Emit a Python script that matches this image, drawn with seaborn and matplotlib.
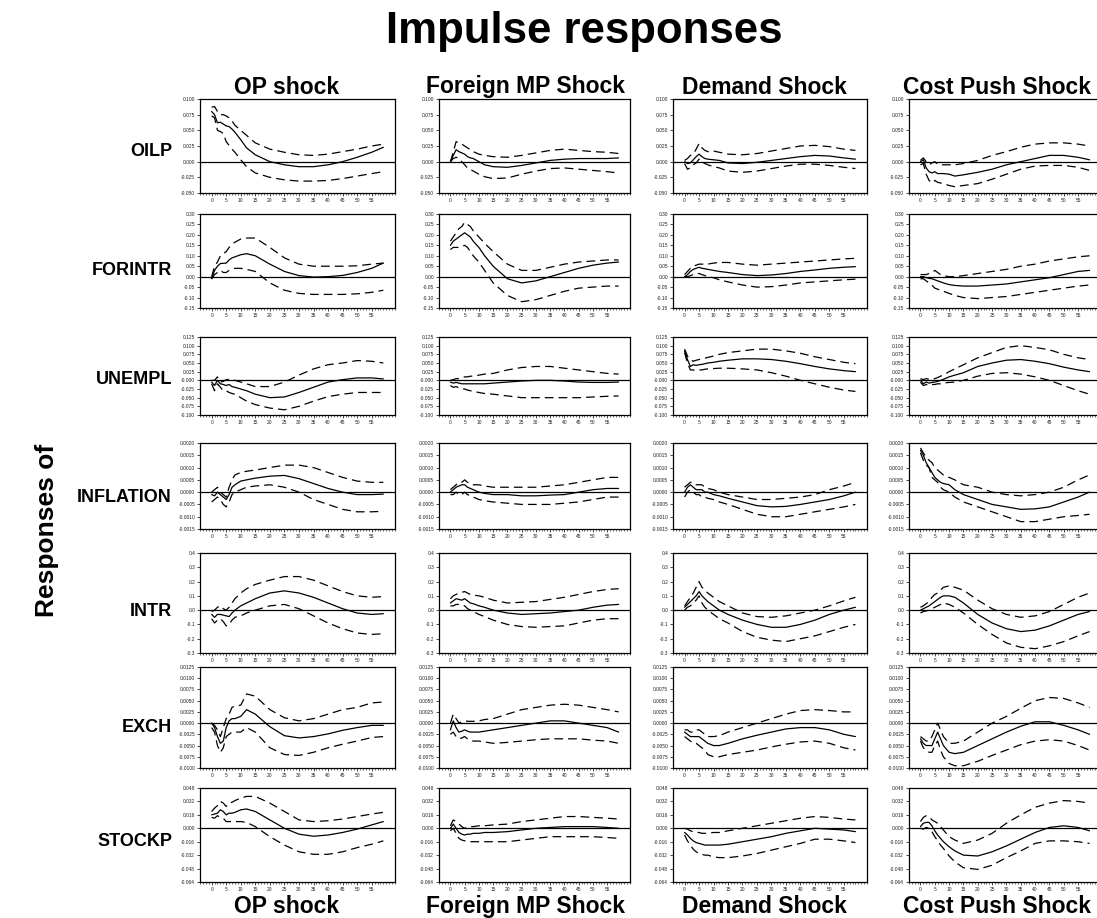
import numpy as np
import pandas as pd
import matplotlib
matplotlib.use("Agg")
import matplotlib.pyplot as plt
import seaborn as sns
from matplotlib.ticker import MultipleLocator

H = [0, 1, 2, 3, 4, 5, 6, 7, 8, 10, 12, 15, 20, 25, 30, 35, 40, 45, 50, 55, 59]

responses = ["OILP", "FORINTR", "UNEMPL", "INFLATION", "INTR", "EXCH", "STOCKP"]
shocks = ["OP shock", "Foreign MP Shock", "Demand Shock", "Cost Push Shock"]
shock_keys = ["OP", "FMP", "DEM", "CP"]

# y-axis ranges / tick steps per response
y_ranges = {
    "OILP": (-0.050, 0.100, 0.025, "%.3f"),
    "FORINTR": (-0.15, 0.30, 0.05, "%.2f"),
    "UNEMPL": (-0.100, 0.125, 0.025, "%.3f"),
    "INFLATION": (-0.0015, 0.0020, 0.0005, "%.4f"),
    "INTR": (-0.3, 0.4, 0.1, "%.1f"),
    "EXCH": (-0.0100, 0.0125, 0.0025, "%.4f"),
    "STOCKP": (-0.064, 0.048, 0.016, "%.3f"),
}

# ---- OILP ----
OILP_OP_mid = [0.080, 0.075, 0.062, 0.063, 0.060, 0.057, 0.056, 0.052, 0.047, 0.035, 0.022, 0.011, 0.000, -0.005, -0.008, -0.008, -0.005, 0.000, 0.007, 0.015, 0.023]
OILP_OP_hi = [0.087, 0.088, 0.080, 0.075, 0.075, 0.073, 0.070, 0.065, 0.058, 0.050, 0.042, 0.030, 0.020, 0.015, 0.011, 0.010, 0.012, 0.016, 0.020, 0.025, 0.028]
OILP_OP_lo = [0.073, 0.070, 0.050, 0.048, 0.045, 0.032, 0.026, 0.020, 0.015, 0.003, -0.008, -0.018, -0.025, -0.029, -0.031, -0.031, -0.030, -0.027, -0.023, -0.019, -0.016]

OILP_FMP_mid = [0.000, 0.010, 0.019, 0.016, 0.014, 0.012, 0.008, 0.006, 0.005, 0.000, -0.005, -0.008, -0.009, -0.006, -0.002, 0.002, 0.004, 0.005, 0.005, 0.005, 0.006]
OILP_FMP_hi = [0.000, 0.015, 0.032, 0.030, 0.028, 0.025, 0.022, 0.019, 0.016, 0.012, 0.010, 0.008, 0.007, 0.010, 0.014, 0.018, 0.020, 0.018, 0.016, 0.015, 0.013]
OILP_FMP_lo = [0.000, 0.005, 0.007, 0.005, 0.000, -0.005, -0.010, -0.012, -0.015, -0.020, -0.024, -0.027, -0.026, -0.020, -0.015, -0.011, -0.010, -0.012, -0.014, -0.016, -0.018]

OILP_DEM_mid = [0.000, -0.003, -0.002, 0.003, 0.008, 0.012, 0.008, 0.005, 0.004, 0.003, 0.002, -0.002, -0.003, -0.001, 0.002, 0.005, 0.008, 0.010, 0.009, 0.006, 0.004]
OILP_DEM_hi = [0.002, 0.005, 0.010, 0.012, 0.020, 0.029, 0.022, 0.018, 0.016, 0.017, 0.015, 0.012, 0.011, 0.013, 0.017, 0.021, 0.025, 0.026, 0.024, 0.020, 0.018]
OILP_DEM_lo = [-0.003, -0.012, -0.010, -0.005, -0.002, 0.004, 0.000, -0.003, -0.005, -0.008, -0.010, -0.015, -0.017, -0.015, -0.011, -0.007, -0.004, -0.004, -0.006, -0.009, -0.011]

OILP_CP_mid = [0.000, 0.003, -0.010, -0.016, -0.018, -0.016, -0.019, -0.019, -0.019, -0.020, -0.023, -0.021, -0.017, -0.012, -0.005, 0.000, 0.005, 0.010, 0.010, 0.007, 0.003]
OILP_CP_hi = [0.002, 0.006, 0.000, -0.005, -0.002, 0.000, -0.004, -0.005, -0.005, -0.005, -0.005, -0.003, 0.002, 0.010, 0.016, 0.023, 0.028, 0.030, 0.030, 0.028, 0.025]
OILP_CP_lo = [-0.005, -0.003, -0.020, -0.030, -0.034, -0.030, -0.033, -0.034, -0.035, -0.038, -0.040, -0.038, -0.035, -0.028, -0.020, -0.012, -0.007, -0.006, -0.006, -0.009, -0.014]

# ---- FORINTR ----
FORINTR_OP_mid = [-0.010, 0.030, 0.050, 0.063, 0.064, 0.065, 0.080, 0.090, 0.095, 0.105, 0.110, 0.100, 0.060, 0.025, 0.005, -0.002, 0.000, 0.006, 0.020, 0.040, 0.065]
FORINTR_OP_hi = [0.000, 0.050, 0.070, 0.100, 0.110, 0.120, 0.140, 0.155, 0.165, 0.180, 0.185, 0.185, 0.140, 0.090, 0.060, 0.050, 0.050, 0.050, 0.052, 0.060, 0.065]
FORINTR_OP_lo = [-0.010, 0.010, 0.020, 0.030, 0.020, 0.020, 0.030, 0.035, 0.040, 0.040, 0.035, 0.025, -0.030, -0.065, -0.080, -0.085, -0.085, -0.085, -0.082, -0.075, -0.065]

FORINTR_FMP_mid = [0.150, 0.170, 0.180, 0.190, 0.200, 0.210, 0.200, 0.190, 0.170, 0.140, 0.100, 0.050, -0.010, -0.030, -0.020, 0.000, 0.020, 0.040, 0.055, 0.065, 0.070]
FORINTR_FMP_hi = [0.170, 0.190, 0.210, 0.230, 0.240, 0.260, 0.250, 0.240, 0.220, 0.190, 0.160, 0.120, 0.060, 0.030, 0.030, 0.045, 0.060, 0.070, 0.075, 0.080, 0.080]
FORINTR_FMP_lo = [0.130, 0.140, 0.140, 0.140, 0.145, 0.150, 0.140, 0.120, 0.100, 0.070, 0.030, -0.030, -0.090, -0.120, -0.110, -0.090, -0.070, -0.055, -0.050, -0.045, -0.045]

FORINTR_DEM_mid = [0.000, 0.010, 0.025, 0.035, 0.040, 0.045, 0.040, 0.038, 0.035, 0.030, 0.025, 0.020, 0.010, 0.005, 0.008, 0.015, 0.025, 0.032, 0.040, 0.045, 0.048]
FORINTR_DEM_hi = [0.010, 0.025, 0.040, 0.050, 0.055, 0.060, 0.060, 0.060, 0.060, 0.065, 0.068, 0.068, 0.060, 0.055, 0.060, 0.065, 0.070, 0.075, 0.080, 0.085, 0.088]
FORINTR_DEM_lo = [0.000, 0.000, 0.005, 0.010, 0.015, 0.015, 0.010, 0.005, 0.000, -0.005, -0.015, -0.025, -0.040, -0.050, -0.048, -0.040, -0.030, -0.025, -0.020, -0.015, -0.012]

FORINTR_CP_mid = [0.000, 0.000, -0.005, -0.008, -0.010, -0.015, -0.020, -0.025, -0.030, -0.038, -0.042, -0.045, -0.045, -0.040, -0.035, -0.025, -0.015, -0.005, 0.010, 0.025, 0.030]
FORINTR_CP_hi = [0.010, 0.010, 0.010, 0.015, 0.020, 0.030, 0.020, 0.010, 0.005, 0.000, 0.000, 0.005, 0.015, 0.025, 0.035, 0.050, 0.060, 0.075, 0.085, 0.095, 0.100]
FORINTR_CP_lo = [-0.010, -0.010, -0.020, -0.030, -0.040, -0.055, -0.060, -0.065, -0.070, -0.080, -0.090, -0.100, -0.105, -0.100, -0.095, -0.085, -0.075, -0.065, -0.055, -0.045, -0.040]

# ---- UNEMPL ----
UNEMPL_OP_mid = [-0.005, -0.015, 0.000, -0.010, -0.012, -0.015, -0.012, -0.018, -0.020, -0.025, -0.030, -0.040, -0.050, -0.048, -0.035, -0.020, -0.005, 0.002, 0.007, 0.007, 0.004]
UNEMPL_OP_hi = [0.000, 0.000, 0.010, -0.005, -0.003, 0.002, 0.003, 0.002, 0.000, -0.005, -0.010, -0.018, -0.018, -0.005, 0.015, 0.033, 0.045, 0.050, 0.057, 0.055, 0.050]
UNEMPL_OP_lo = [-0.010, -0.030, -0.010, -0.020, -0.030, -0.030, -0.035, -0.038, -0.040, -0.050, -0.060, -0.070, -0.080, -0.085, -0.075, -0.060, -0.047, -0.040, -0.035, -0.035, -0.035]

UNEMPL_FMP_mid = [-0.005, -0.008, -0.006, -0.008, -0.010, -0.010, -0.010, -0.010, -0.010, -0.010, -0.010, -0.008, -0.005, -0.002, 0.000, 0.000, -0.002, -0.005, -0.006, -0.006, -0.005]
UNEMPL_FMP_hi = [0.000, 0.002, 0.005, 0.005, 0.008, 0.010, 0.010, 0.012, 0.012, 0.015, 0.018, 0.020, 0.030, 0.037, 0.040, 0.040, 0.035, 0.030, 0.025, 0.020, 0.018]
UNEMPL_FMP_lo = [-0.015, -0.020, -0.018, -0.022, -0.025, -0.025, -0.028, -0.030, -0.032, -0.035, -0.038, -0.040, -0.045, -0.050, -0.050, -0.050, -0.050, -0.050, -0.048, -0.046, -0.045]

UNEMPL_DEM_mid = [0.085, 0.060, 0.040, 0.045, 0.043, 0.045, 0.046, 0.048, 0.050, 0.052, 0.055, 0.058, 0.062, 0.062, 0.060, 0.055, 0.048, 0.040, 0.033, 0.028, 0.025]
UNEMPL_DEM_hi = [0.090, 0.070, 0.060, 0.055, 0.058, 0.060, 0.062, 0.064, 0.066, 0.070, 0.075, 0.080, 0.085, 0.090, 0.090, 0.085, 0.078, 0.068, 0.060, 0.052, 0.048]
UNEMPL_DEM_lo = [0.080, 0.050, 0.030, 0.030, 0.028, 0.030, 0.030, 0.032, 0.033, 0.034, 0.035, 0.035, 0.033, 0.030, 0.022, 0.012, 0.000, -0.010, -0.020, -0.028, -0.032]

UNEMPL_CP_mid = [0.000, -0.010, -0.005, -0.008, -0.006, -0.005, -0.003, 0.000, 0.003, 0.010, 0.015, 0.022, 0.040, 0.050, 0.058, 0.060, 0.055, 0.048, 0.038, 0.030, 0.025]
UNEMPL_CP_hi = [0.005, 0.002, 0.005, 0.003, 0.004, 0.005, 0.008, 0.012, 0.015, 0.025, 0.033, 0.045, 0.065, 0.080, 0.095, 0.100, 0.095, 0.088, 0.075, 0.065, 0.060]
UNEMPL_CP_lo = [-0.005, -0.015, -0.012, -0.015, -0.012, -0.012, -0.010, -0.010, -0.008, -0.006, -0.005, 0.000, 0.012, 0.020, 0.022, 0.018, 0.010, 0.000, -0.015, -0.030, -0.040]

# ---- INFLATION ----
INFLATION_OP_mid = [-0.0001, -0.00015, 0.0, -0.0001, -0.0002, -0.0003, -0.0001, 0.0002, 0.0003, 0.00045, 0.0005, 0.00057, 0.00065, 0.00068, 0.00055, 0.00035, 0.00015, 0.0, -0.0001, -0.0001, -0.00008]
INFLATION_OP_hi = [0.0, 0.0001, 0.0002, 0.0, -0.0001, -0.0002, 0.0002, 0.0005, 0.0007, 0.0008, 0.00085, 0.0009, 0.001, 0.0011, 0.0011, 0.001, 0.0008, 0.0006, 0.00045, 0.0004, 0.0004]
INFLATION_OP_lo = [-0.0004, -0.0003, -0.0002, -0.0003, -0.0005, -0.0006, -0.0004, -0.0001, 0.0, 0.0001, 0.0002, 0.00025, 0.0003, 0.0002, 0.0, -0.0003, -0.0005, -0.0007, -0.0008, -0.0008, -0.00078]

INFLATION_FMP_mid = [0.0, 0.0001, 0.0002, 0.00025, 0.0003, 0.0003, 0.0002, 0.00015, 0.0001, 0.0, -0.00005, -0.0001, -0.0001, -0.00015, -0.00015, -0.00012, -0.0001, 0.0, 0.0001, 0.00015, 0.00015]
INFLATION_FMP_hi = [0.0001, 0.0002, 0.0003, 0.0004, 0.0004, 0.0005, 0.0004, 0.00035, 0.0003, 0.0003, 0.00025, 0.0002, 0.0002, 0.0002, 0.0002, 0.00025, 0.0003, 0.0004, 0.0005, 0.0006, 0.0006]
INFLATION_FMP_lo = [-0.0001, -0.0001, 0.0, -0.0001, -0.0001, 0.0, -0.0001, -0.00015, -0.0002, -0.0003, -0.00035, -0.0004, -0.00045, -0.0005, -0.0005, -0.0005, -0.00045, -0.0004, -0.0003, -0.0002, -0.0002]

INFLATION_DEM_mid = [0.0, 0.0002, 0.0003, 0.0002, 0.0001, 0.0001, 0.0001, 0.0, 0.0, -0.0001, -0.00015, -0.00025, -0.0004, -0.00055, -0.0006, -0.00058, -0.0005, -0.0004, -0.0003, -0.00015, 0.0]
INFLATION_DEM_hi = [0.0002, 0.0003, 0.0004, 0.0004, 0.0003, 0.0003, 0.0003, 0.0002, 0.00015, 0.0001, 0.0, -0.0001, -0.0002, -0.0003, -0.0003, -0.00025, -0.0002, -0.0001, 0.0001, 0.00025, 0.0004]
INFLATION_DEM_lo = [-0.0002, 0.0, 0.0001, 0.0, -0.0001, -0.0001, -0.0002, -0.0002, -0.00025, -0.0003, -0.0004, -0.0005, -0.0007, -0.0009, -0.001, -0.001, -0.0009, -0.0008, -0.0007, -0.0006, -0.0005]

INFLATION_CP_mid = [0.0017, 0.0015, 0.0012, 0.001, 0.0008, 0.0006, 0.0005, 0.0004, 0.00035, 0.0003, 0.0001, -0.0001, -0.0003, -0.0005, -0.0006, -0.0007, -0.00068, -0.0006, -0.0004, -0.0002, 0.0]
INFLATION_CP_hi = [0.0018, 0.0016, 0.0014, 0.0013, 0.0012, 0.001, 0.0009, 0.0008, 0.0007, 0.0006, 0.0005, 0.0003, 0.0002, 0.0, -0.0001, -0.00015, -0.0001, 0.0, 0.0002, 0.0005, 0.0007]
INFLATION_CP_lo = [0.0016, 0.0013, 0.0011, 0.001, 0.0006, 0.0005, 0.0004, 0.0002, 0.0001, 0.0, -0.0002, -0.0004, -0.0006, -0.0008, -0.001, -0.0012, -0.0012, -0.0011, -0.001, -0.00095, -0.0009]

# ---- INTR ----
INTR_OP_mid = [-0.030, -0.050, -0.030, -0.030, -0.035, -0.040, -0.045, -0.020, 0.000, 0.030, 0.050, 0.080, 0.120, 0.135, 0.120, 0.090, 0.050, 0.010, -0.020, -0.030, -0.025]
INTR_OP_hi = [-0.010, 0.000, 0.020, 0.030, 0.010, 0.000, 0.020, 0.050, 0.080, 0.120, 0.150, 0.180, 0.210, 0.235, 0.235, 0.210, 0.170, 0.130, 0.100, 0.090, 0.095]
INTR_OP_lo = [-0.060, -0.090, -0.070, -0.060, -0.080, -0.110, -0.100, -0.070, -0.050, -0.040, -0.020, 0.000, 0.030, 0.040, 0.010, -0.040, -0.090, -0.130, -0.160, -0.170, -0.165]

INTR_FMP_mid = [0.050, 0.065, 0.080, 0.075, 0.070, 0.080, 0.065, 0.050, 0.045, 0.030, 0.020, 0.000, -0.020, -0.030, -0.025, -0.020, -0.010, 0.000, 0.020, 0.035, 0.040]
INTR_FMP_hi = [0.080, 0.100, 0.110, 0.120, 0.125, 0.130, 0.120, 0.110, 0.105, 0.100, 0.090, 0.070, 0.050, 0.055, 0.060, 0.075, 0.090, 0.110, 0.130, 0.145, 0.150]
INTR_FMP_lo = [0.030, 0.030, 0.040, 0.040, 0.035, 0.030, 0.010, 0.000, -0.010, -0.030, -0.045, -0.070, -0.100, -0.115, -0.120, -0.115, -0.110, -0.090, -0.070, -0.060, -0.060]

INTR_DEM_mid = [0.020, 0.040, 0.060, 0.080, 0.100, 0.130, 0.100, 0.080, 0.060, 0.030, 0.000, -0.030, -0.070, -0.100, -0.120, -0.120, -0.100, -0.070, -0.030, 0.000, 0.020]
INTR_DEM_hi = [0.030, 0.060, 0.090, 0.120, 0.160, 0.200, 0.160, 0.140, 0.120, 0.090, 0.060, 0.030, -0.020, -0.045, -0.050, -0.040, -0.020, 0.000, 0.030, 0.065, 0.090]
INTR_DEM_lo = [0.000, 0.020, 0.030, 0.050, 0.070, 0.100, 0.050, 0.020, 0.000, -0.030, -0.060, -0.090, -0.150, -0.190, -0.210, -0.220, -0.200, -0.180, -0.150, -0.120, -0.100]

INTR_CP_mid = [0.000, 0.010, 0.020, 0.030, 0.045, 0.060, 0.075, 0.090, 0.100, 0.100, 0.090, 0.050, -0.030, -0.090, -0.130, -0.150, -0.140, -0.110, -0.070, -0.030, -0.010]
INTR_CP_hi = [0.020, 0.030, 0.045, 0.060, 0.090, 0.110, 0.120, 0.140, 0.160, 0.170, 0.160, 0.140, 0.070, 0.010, -0.030, -0.050, -0.040, -0.010, 0.040, 0.090, 0.120]
INTR_CP_lo = [-0.020, -0.010, -0.005, 0.000, 0.010, 0.020, 0.030, 0.040, 0.050, 0.040, 0.020, -0.020, -0.100, -0.170, -0.230, -0.260, -0.270, -0.250, -0.220, -0.180, -0.150]

# ---- EXCH ----
EXCH_OP_mid = [0.0, -0.001, -0.003, -0.0045, -0.004, -0.001, 0.0005, 0.001, 0.001, 0.0015, 0.003, 0.002, -0.0008, -0.0028, -0.0033, -0.003, -0.0024, -0.0016, -0.001, -0.0005, -0.0005]
EXCH_OP_hi = [0.0, -0.0005, -0.0015, -0.003, -0.001, 0.001, 0.002, 0.0035, 0.0038, 0.004, 0.0065, 0.006, 0.003, 0.0012, 0.0005, 0.001, 0.002, 0.003, 0.0035, 0.0045, 0.0047]
EXCH_OP_lo = [-0.001, -0.002, -0.005, -0.0065, -0.0055, -0.003, -0.0025, -0.002, -0.002, -0.002, -0.001, -0.002, -0.0055, -0.007, -0.0072, -0.0065, -0.0055, -0.0047, -0.004, -0.0032, -0.003]

EXCH_FMP_mid = [-0.0015, 0.0005, -0.001, -0.002, -0.0018, -0.0015, -0.0018, -0.002, -0.002, -0.002, -0.0018, -0.0015, -0.001, -0.0005, 0.0, 0.0005, 0.0005, 0.0, -0.0005, -0.001, -0.002]
EXCH_FMP_hi = [0.0, 0.002, 0.001, 0.0, 0.0003, 0.0005, 0.0004, 0.0004, 0.0004, 0.0005, 0.0008, 0.001, 0.002, 0.003, 0.0035, 0.004, 0.0042, 0.004, 0.0035, 0.003, 0.0025]
EXCH_FMP_lo = [-0.0025, -0.002, -0.003, -0.0035, -0.0033, -0.003, -0.0035, -0.0038, -0.004, -0.004, -0.0042, -0.0045, -0.0043, -0.004, -0.0037, -0.0035, -0.0035, -0.0035, -0.0038, -0.004, -0.0045]

EXCH_DEM_mid = [-0.002, -0.0025, -0.003, -0.003, -0.003, -0.003, -0.0035, -0.004, -0.0045, -0.005, -0.005, -0.0045, -0.0035, -0.0027, -0.002, -0.0013, -0.001, -0.001, -0.0015, -0.0025, -0.003]
EXCH_DEM_hi = [-0.0015, -0.0015, -0.002, -0.002, -0.0015, -0.0015, -0.002, -0.0025, -0.003, -0.003, -0.0028, -0.002, -0.001, 0.0, 0.001, 0.002, 0.0028, 0.003, 0.0028, 0.0025, 0.0025]
EXCH_DEM_lo = [-0.003, -0.0035, -0.004, -0.0045, -0.0045, -0.005, -0.0055, -0.006, -0.007, -0.0075, -0.0075, -0.007, -0.0065, -0.006, -0.0053, -0.0047, -0.0042, -0.004, -0.0045, -0.0055, -0.006]

EXCH_CP_mid = [-0.0035, -0.0045, -0.005, -0.005, -0.005, -0.0035, -0.002, -0.0035, -0.005, -0.0065, -0.0068, -0.0065, -0.005, -0.0035, -0.002, -0.0007, 0.0003, 0.0003, -0.0005, -0.0015, -0.0025]
EXCH_CP_hi = [-0.003, -0.0035, -0.004, -0.004, -0.003, -0.0015, 0.0, -0.0015, -0.003, -0.0045, -0.0045, -0.004, -0.002, 0.0, 0.0015, 0.0033, 0.005, 0.0057, 0.0055, 0.0045, 0.0035]
EXCH_CP_lo = [-0.004, -0.0055, -0.006, -0.0065, -0.0065, -0.005, -0.004, -0.006, -0.0075, -0.009, -0.0095, -0.0095, -0.0085, -0.0072, -0.006, -0.0048, -0.004, -0.0037, -0.004, -0.005, -0.006]

# ---- STOCKP ----
STOCKP_OP_mid = [0.016, 0.017, 0.018, 0.022, 0.020, 0.016, 0.018, 0.018, 0.019, 0.022, 0.023, 0.020, 0.010, 0.000, -0.007, -0.0095, -0.008, -0.005, -0.001, 0.004, 0.008]
STOCKP_OP_hi = [0.020, 0.024, 0.027, 0.032, 0.030, 0.026, 0.030, 0.031, 0.033, 0.036, 0.038, 0.038, 0.030, 0.020, 0.010, 0.008, 0.009, 0.011, 0.014, 0.017, 0.019]
STOCKP_OP_lo = [0.013, 0.012, 0.015, 0.013, 0.012, 0.008, 0.008, 0.008, 0.008, 0.008, 0.007, 0.002, -0.010, -0.020, -0.028, -0.031, -0.031, -0.028, -0.023, -0.019, -0.015]

STOCKP_FMP_mid = [0.000, 0.005, 0.000, -0.005, -0.007, -0.008, -0.007, -0.007, -0.006, -0.006, -0.005, -0.005, -0.004, -0.002, 0.000, 0.001, 0.002, 0.002, 0.002, 0.001, 0.000]
STOCKP_FMP_hi = [0.003, 0.010, 0.008, 0.005, 0.002, 0.000, 0.001, 0.002, 0.002, 0.003, 0.003, 0.004, 0.005, 0.008, 0.010, 0.012, 0.014, 0.014, 0.013, 0.012, 0.011]
STOCKP_FMP_lo = [-0.003, 0.000, -0.006, -0.012, -0.014, -0.015, -0.015, -0.016, -0.016, -0.016, -0.016, -0.016, -0.016, -0.014, -0.012, -0.010, -0.010, -0.010, -0.010, -0.011, -0.012]

STOCKP_DEM_mid = [-0.005, -0.008, -0.012, -0.015, -0.017, -0.018, -0.019, -0.020, -0.020, -0.020, -0.020, -0.019, -0.016, -0.013, -0.010, -0.006, -0.003, 0.000, -0.001, -0.002, -0.004]
STOCKP_DEM_hi = [0.000, -0.001, -0.003, -0.004, -0.005, -0.005, -0.006, -0.006, -0.006, -0.005, -0.005, -0.003, 0.000, 0.003, 0.006, 0.009, 0.012, 0.014, 0.013, 0.011, 0.010]
STOCKP_DEM_lo = [-0.008, -0.015, -0.020, -0.025, -0.028, -0.030, -0.031, -0.032, -0.032, -0.034, -0.035, -0.035, -0.033, -0.030, -0.026, -0.022, -0.018, -0.013, -0.013, -0.015, -0.017]

STOCKP_CP_mid = [0.002, 0.006, 0.007, 0.007, 0.003, -0.003, -0.008, -0.012, -0.016, -0.022, -0.027, -0.032, -0.033, -0.028, -0.021, -0.013, -0.005, 0.001, 0.003, 0.001, -0.003]
STOCKP_CP_hi = [0.008, 0.013, 0.015, 0.014, 0.010, 0.008, 0.006, 0.002, -0.002, -0.010, -0.014, -0.018, -0.014, -0.006, 0.006, 0.016, 0.025, 0.030, 0.033, 0.032, 0.030]
STOCKP_CP_lo = [0.000, -0.001, 0.001, 0.000, -0.004, -0.010, -0.015, -0.020, -0.024, -0.033, -0.040, -0.047, -0.049, -0.044, -0.035, -0.027, -0.018, -0.015, -0.015, -0.016, -0.018]


# long table for seaborn
rows = []
g = globals()
for resp in responses:
    for sk in shock_keys:
        for band in ["mid", "lo", "hi"]:
            vals = g[f"{resp}_{sk}_{band}"]
            for h, v in zip(H, vals):
                rows.append((resp, sk, band, h, v))
df = pd.DataFrame(rows, columns=["resp", "shock", "band", "h", "value"])

sns.set_theme(style="white")
plt.rcParams["font.family"] = ["Liberation Sans", "DejaVu Sans"]
plt.rcParams["text.color"] = "black"

fig = plt.figure(figsize=(10.97, 9.18), dpi=100)
W, Hpx = 1097.0, 918.0

# pixel boxes of the panels (left, right) and (top, bottom)
col_px = [(200, 395), (439, 630), (673, 867), (909, 1101)]
row_px = [(99, 193), (214, 308), (337, 415), (443, 529), (553, 653), (667, 768), (788, 882)]
row_label_y = [152, 270, 380, 497, 612, 727, 842]

for r, resp in enumerate(responses):
    lo_y, hi_y, step, fmt = y_ranges[resp]
    top, bot = row_px[r]
    ticks = np.arange(lo_y, hi_y + step / 2, step)
    for c, sk in enumerate(shock_keys):
        left, right = col_px[c]
        ax = fig.add_axes([left / W, 1 - bot / Hpx, (right - left) / W, (bot - top) / Hpx])
        sub = df[(df.resp == resp) & (df.shock == sk)]
        sns.lineplot(data=sub, x="h", y="value", style="band",
                     style_order=["mid", "lo", "hi"],
                     dashes={"mid": "", "lo": (7, 4), "hi": (7, 4)},
                     color="black", linewidth=0.9, estimator=None,
                     legend=False, ax=ax)
        ax.axhline(0, color="black", linewidth=0.9)
        ax.set_ylim(lo_y, hi_y)
        ax.set_yticks(ticks)
        ax.set_yticklabels([fmt % t for t in ticks])
        ax.set_xticks(range(0, 56, 5))
        ax.xaxis.set_minor_locator(MultipleLocator(1))
        ax.set_xlim(-4, 63)
        ax.tick_params(axis="both", which="major", direction="out", length=2,
                       width=0.5, labelsize=3.5, labelcolor="#222222", pad=1.5,
                       color="black", bottom=True, left=True)
        ax.tick_params(axis="x", which="minor", direction="out", length=1.5,
                       width=0.4, color="black", bottom=True)
        ax.set_xlabel("")
        ax.set_ylabel("")
        for s in ax.spines.values():
            s.set_color("black")
            s.set_linewidth(0.9)
    fig.text(172 / W, 1 - row_label_y[r] / Hpx, resp, ha="right", va="center",
             fontsize=13, fontweight="bold", color="black")

col_centers = [287, 526, 764, 997]
for c, name in enumerate(shocks):
    fig.text(col_centers[c] / W, 1 - 87 / Hpx, name, ha="center", va="center",
             fontsize=16.5, fontweight="bold", color="black")
    fig.text(col_centers[c] / W, 1 - 913 / Hpx, name, ha="center", va="baseline",
             fontsize=16.5, fontweight="bold", color="black")

fig.text(47 / W, 1 - 530 / Hpx, "Responses of", rotation=90, ha="center",
         va="center", fontsize=19, fontweight="bold", color="black")
fig.suptitle("Impulse responses", x=584 / W, y=1 - 31 / Hpx, ha="center",
             va="center", fontsize=31.5, fontweight="bold", color="black")

fig.savefig("out.png", dpi=100)
